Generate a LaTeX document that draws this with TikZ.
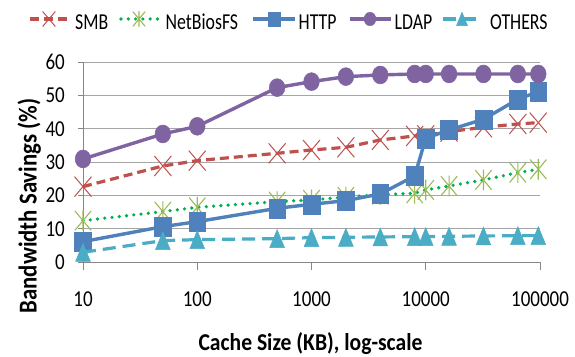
\documentclass[tikz,border=0pt]{standalone}
\usepackage{fontspec}
\setmainfont{Carlito}
\usetikzlibrary{plotmarks}
\definecolor{smbc}{HTML}{C0504D}
\definecolor{nbdot}{HTML}{00B050}
\definecolor{nbmk}{HTML}{9BBB59}
\definecolor{httpc}{HTML}{4F81BD}
\definecolor{ldapc}{HTML}{8064A2}
\definecolor{othc}{HTML}{4BACC6}
\definecolor{gridc}{HTML}{A6A6A6}
\definecolor{axisc}{HTML}{868686}
\pgfdeclareplotmark{ellm}{\pgfpathellipse{\pgfpointorigin}{\pgfqpoint{0.98\pgfplotmarksize}{0pt}}{\pgfqpoint{0pt}{1.12\pgfplotmarksize}}\pgfusepathqfillstroke}
\pgfdeclareplotmark{sqm}{\pgfpathrectangle{\pgfqpoint{-1.04\pgfplotmarksize}{-1.19\pgfplotmarksize}}{\pgfqpoint{2.08\pgfplotmarksize}{2.38\pgfplotmarksize}}\pgfusepathqfillstroke}
\pgfdeclareplotmark{trim}{\pgfpathmoveto{\pgfqpoint{0pt}{1.12\pgfplotmarksize}}\pgfpathlineto{\pgfqpoint{0.92\pgfplotmarksize}{-1.12\pgfplotmarksize}}\pgfpathlineto{\pgfqpoint{-0.92\pgfplotmarksize}{-1.12\pgfplotmarksize}}\pgfpathclose\pgfusepathqfillstroke}
\pgfdeclareplotmark{xm}{\pgfpathmoveto{\pgfqpoint{-1.06\pgfplotmarksize}{-1.25\pgfplotmarksize}}\pgfpathlineto{\pgfqpoint{1.06\pgfplotmarksize}{1.25\pgfplotmarksize}}\pgfpathmoveto{\pgfqpoint{-1.06\pgfplotmarksize}{1.25\pgfplotmarksize}}\pgfpathlineto{\pgfqpoint{1.06\pgfplotmarksize}{-1.25\pgfplotmarksize}}\pgfusepathqstroke}
\pgfdeclareplotmark{starm}{\pgfpathmoveto{\pgfqpoint{-1.0\pgfplotmarksize}{-1.2\pgfplotmarksize}}\pgfpathlineto{\pgfqpoint{1.0\pgfplotmarksize}{1.2\pgfplotmarksize}}\pgfpathmoveto{\pgfqpoint{-1.0\pgfplotmarksize}{1.2\pgfplotmarksize}}\pgfpathlineto{\pgfqpoint{1.0\pgfplotmarksize}{-1.2\pgfplotmarksize}}\pgfpathmoveto{\pgfqpoint{0pt}{-1.25\pgfplotmarksize}}\pgfpathlineto{\pgfqpoint{0pt}{1.25\pgfplotmarksize}}\pgfusepathqstroke}
\tikzset{
  smbline/.style={draw=smbc, line width=3.2pt, dash pattern=on 9pt off 5pt, mark=xm, mark size=8pt, mark options={solid, draw=smbc, line width=1pt}},
  nbline/.style={draw=nbdot, line width=3.6pt, line cap=round, dash pattern=on 0pt off 7.3pt, mark=starm, mark size=8pt, mark options={solid, draw=nbmk, line width=1.1pt}},
  httpline/.style={draw=httpc, line width=3.4pt, mark=sqm, mark size=8pt, mark options={solid, draw=httpc, fill=httpc, line width=0.5pt}},
  ldapline/.style={draw=ldapc, line width=3.4pt, mark=ellm, mark size=8pt, mark options={solid, draw=ldapc, fill=ldapc, line width=0.5pt}},
  othline/.style={draw=othc, line width=3.2pt, dash pattern=on 13pt off 7pt, mark=trim, mark size=8pt, mark options={solid, draw=othc, fill=othc, line width=0.5pt}},
  ticklab/.style={font=\fontsize{19}{21}\selectfont, text=black, inner sep=0pt, yscale=1.2},
  legtxt/.style={font=\fontsize{17.8}{20}\selectfont, text=black, inner sep=0pt, anchor=base west, yscale=1.28},
  axtitle/.style={font=\fontsize{21.6}{24}\selectfont\bfseries, text=black, inner sep=0pt}
}
\begin{document}
\begin{tikzpicture}[x=1pt,y=1pt]
\useasboundingbox (0,0) rectangle (575,356);
\fill[white] (0,0) rectangle (575,356);
\begin{scope}[shift={(83,93.7)}, x=114.25pt, y=3.3333pt]
  % grid
  \foreach \v in {10,20,...,60} \draw[gridc, line width=1pt] (0,\v) -- (4,\v);
  % axes
  \draw[axisc, line width=1pt] (0,0) -- (0,60);
  \foreach \v in {0,10,...,60} \draw[axisc, line width=1pt] (-5pt,\v) -- (0,\v);
  \draw[axisc, line width=1pt] (0,0) -- (4,0);
  \foreach \d in {0,1,2,3,4} \draw[axisc, line width=1pt] (\d,0) -- ([yshift=-8pt]\d,0);
  % y labels
  \foreach \v in {0,10,...,60} \node[ticklab, anchor=east] (yl\v) at ([xshift=-18pt]0,\v) {\v};
  % x labels
  \node[ticklab] (xl0) at ([yshift=-37pt]0,0) {10};
  \node[ticklab] (xl1) at ([yshift=-37pt]1,0) {100};
  \node[ticklab] (xl2) at ([yshift=-37pt]2,0) {1000};
  \node[ticklab] (xl3) at ([yshift=-37pt]3,0) {10000};
  \node[ticklab] (xl4) at ([yshift=-37pt]4,0) {100000};
  % series
  \draw[smbline] plot coordinates {(0,22.7) (0.699,28.9) (1,30.5) (1.699,32.7) (2,33.7) (2.301,34.5) (2.602,36.7) (2.903,37.9) (3,38.1) (3.204,39.2) (3.505,40.5) (3.806,41.5) (3.985,41.9)};
  \draw[nbline] plot coordinates {(0,12.5) (0.699,15.2) (1,16.5) (1.699,18.2) (2,18.7) (2.301,19.6) (2.602,20.3) (2.903,20.7) (3,21.7) (3.204,22.9) (3.505,24.7) (3.806,26.9) (3.985,27.9)};
  \draw[httpline] plot coordinates {(0,6.2) (0.699,10.7) (1,12.2) (1.699,16.2) (2,17.4) (2.301,18.5) (2.602,20.5) (2.903,25.9) (3,37.2) (3.204,39.7) (3.505,42.9) (3.806,48.9) (3.985,51.2)};
  \draw[ldapline] plot coordinates {(0,31) (0.699,38.5) (1,40.8) (1.699,52.4) (2,54.2) (2.301,55.7) (2.602,56.2) (2.903,56.5) (3,56.5) (3.204,56.5) (3.505,56.5) (3.806,56.5) (3.985,56.5)};
  \draw[othline] plot coordinates {(0,3.0) (0.699,6.5) (1,6.8) (1.699,7.1) (2,7.4) (2.301,7.5) (2.602,7.6) (2.903,7.7) (3,7.7) (3.204,7.8) (3.505,7.9) (3.806,8.0) (3.985,8.0)};
\end{scope}
% axis titles
\node[axtitle, anchor=base, yscale=1.12] (xt) at (310.5,6) {Cache Size (KB), log-scale};
\node[axtitle, font=\fontsize{22.8}{25}\selectfont\bfseries, rotate=90, anchor=base] (yt) at (36.5,150) {\scalebox{1}[1.13]{Bandwidth Savings (\%)}};
% legend
\draw[smbline, mark=none] (30,337) -- (68,337);
\path[smbline] plot[mark size=6pt] coordinates {(49,337)};
\node[legtxt] (l1) at (75,326.7) {SMB};
\draw[nbline, mark=none] (121,337) -- (159,337);
\path[nbline] plot[mark size=6pt] coordinates {(139,337)};
\node[legtxt] (l2) at (165.5,326.7) {NetBiosFS};
\draw[httpline, mark=none] (253,337) -- (295,337);
\path[httpline] plot[mark size=6pt] coordinates {(274.5,337)};
\node[legtxt] (l3) at (298.5,326.7) {HTTP};
\draw[ldapline, mark=none] (350,337) -- (391,337);
\path[ldapline] plot[mark size=6pt] coordinates {(370,337)};
\node[legtxt] (l4) at (394.5,326.7) {LDAP};
\draw[othline, mark=none] (443,337) -- (481,337);
\path[othline] plot[mark size=6pt] coordinates {(462,337)};
\node[legtxt] (l5) at (490,326.7) {OTHERS};
\end{tikzpicture}
\end{document}
